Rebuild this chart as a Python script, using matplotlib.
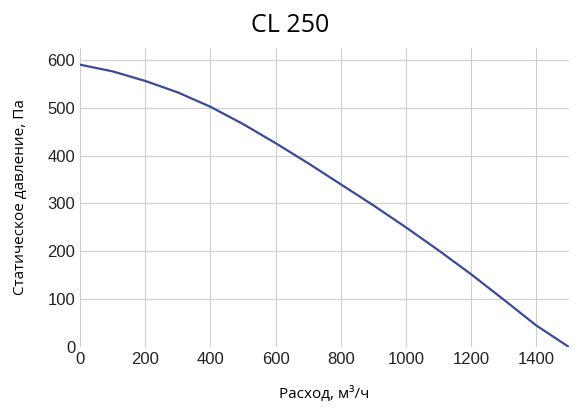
import matplotlib
matplotlib.use("Agg")
import matplotlib.pyplot as plt

flow = [0, 100, 200, 300, 400, 500, 600, 700, 800, 900, 1000, 1100, 1200, 1300, 1400, 1500]
pressure = [590, 576, 556, 532, 502, 466, 426, 384, 340, 296, 250, 202, 152, 99, 45, 0]

plt.rcParams['font.family'] = ['Open Sans', 'DejaVu Sans']
fig = plt.figure(figsize=(5.81, 4.17), dpi=100)
ax = fig.add_axes([0.138, 0.168, 0.841, 0.717])
ax.plot(flow, pressure, color="#3b4a94", lw=1.6)
ax.set_xlim(0, 1500)
ax.set_ylim(0, 625)
ax.set_xticks(range(0, 1401, 200))
ax.set_yticks(range(0, 601, 100))
ax.grid(True, color="#d0d0d0", lw=0.8)
for s in ax.spines.values():
    s.set_visible(False)
ax.tick_params(length=0, labelsize=12, colors="#222222")
for lab in ax.get_xticklabels() + ax.get_yticklabels():
    lab.set_family(['Liberation Sans', 'DejaVu Sans'])
ax.set_xlabel("Расход, м³/ч", fontsize=11, labelpad=14)
ax.set_ylabel("Статическое давление, Па", fontsize=11, labelpad=14)
fig.suptitle("CL 250", fontsize=18, y=0.97)
fig.savefig("out.png", dpi=100)
